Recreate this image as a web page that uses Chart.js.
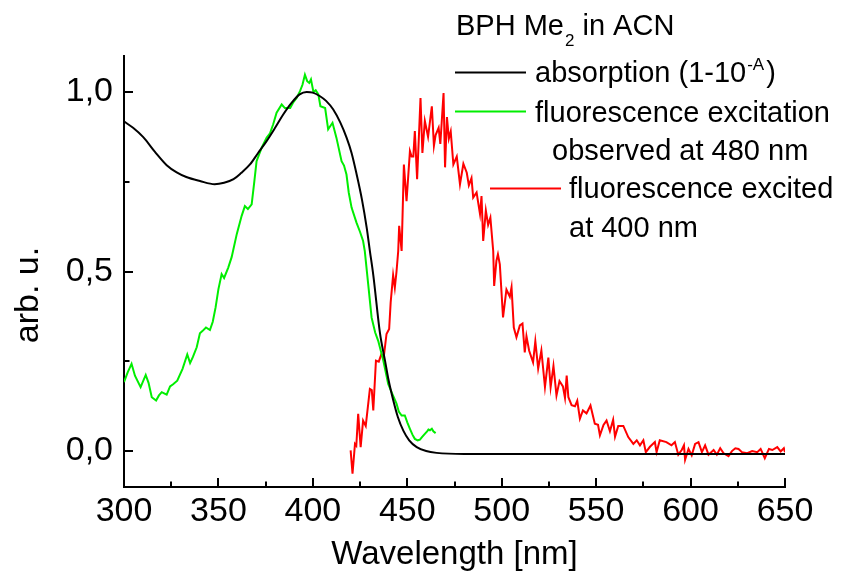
<!DOCTYPE html>
<html>
<head>
<meta charset="utf-8">
<title>BPH Me2 in ACN</title>
<script src="https://cdn.jsdelivr.net/npm/chart.js@4.4.1/dist/chart.umd.min.js"></script>
<style>
  html, body { margin: 0; padding: 0; background: #fff; }
  #wrap { position: relative; width: 857px; height: 581px; }
</style>
</head>
<body>
<div id="wrap"><canvas id="spectra" width="857" height="581"></canvas></div>
<script>
// absorption (1-10^-A), black
var absWl = [300, 304.8, 310.2, 316.4, 322.6, 327.9, 333, 340.2, 348, 353, 358, 362, 366.7, 371, 375.5, 380, 384.3, 388.5, 393, 396.7, 400, 403.8, 407, 410.8, 414.5, 417.9, 420.5, 423.2, 426, 428.5, 430.2, 432, 435.5, 438.2, 440, 442.6, 445, 447.9, 451, 455, 460, 465.5, 480, 520, 560, 600, 650];
var absVal = [0.918, 0.9, 0.874, 0.833, 0.796, 0.776, 0.763, 0.752, 0.743, 0.747, 0.757, 0.774, 0.798, 0.83, 0.863, 0.9, 0.937, 0.968, 0.993, 1.0, 0.998, 0.988, 0.975, 0.951, 0.915, 0.872, 0.83, 0.77, 0.7, 0.622, 0.557, 0.49, 0.33, 0.252, 0.2, 0.141, 0.095, 0.057, 0.03, 0.011, 0.0, -0.005, -0.008, -0.008, -0.008, -0.008, -0.008];

// fluorescence excitation observed at 480 nm, green
var excWl = [300, 302, 304, 305.8, 308.8, 311.5, 313, 314.7, 317, 318.5, 320, 321.5, 322.6, 324.4, 326, 328.2, 331, 333.5, 335, 336.5, 338.5, 340.2, 341.5, 343.4, 345.5, 347, 348.5, 350, 351.7, 353, 355.2, 357, 359.7, 362.3, 364, 365.6, 367.6, 369, 370.2, 372.9, 375.5, 377.3, 379, 380.8, 383.5, 385.2, 388, 389.5, 391.4, 393.2, 394.5, 395.8, 397, 398.1, 399, 400.3, 401.5, 402.9, 404, 406.5, 408.1, 410.4, 412.5, 415.2, 416.5, 417.8, 419, 420.5, 423.1, 425, 426.6, 427.5, 429.3, 431.1, 433, 434.6, 437.3, 439.9, 442, 444.3, 445.5, 447, 448.7, 450, 451.4, 452.8, 454, 455.5, 456.7, 458, 459.3, 460.5, 461.2, 462, 463, 463.8, 465];
var excVal = [0.192, 0.22, 0.243, 0.21, 0.178, 0.212, 0.19, 0.15, 0.141, 0.155, 0.164, 0.16, 0.157, 0.18, 0.186, 0.196, 0.229, 0.269, 0.245, 0.262, 0.289, 0.328, 0.334, 0.344, 0.337, 0.36, 0.4, 0.451, 0.493, 0.482, 0.511, 0.54, 0.604, 0.655, 0.682, 0.674, 0.687, 0.75, 0.807, 0.845, 0.872, 0.885, 0.91, 0.942, 0.965, 0.955, 0.955, 0.97, 0.983, 1.002, 1.02, 1.048, 1.03, 1.025, 1.035, 1.0, 1.005, 0.993, 0.96, 0.955, 0.896, 0.914, 0.872, 0.807, 0.795, 0.77, 0.72, 0.678, 0.636, 0.61, 0.585, 0.557, 0.465, 0.372, 0.33, 0.307, 0.252, 0.187, 0.16, 0.132, 0.11, 0.099, 0.099, 0.08, 0.062, 0.045, 0.034, 0.03, 0.032, 0.04, 0.048, 0.055, 0.06, 0.058, 0.062, 0.055, 0.05];

// fluorescence excited at 400 nm, red
var emWl = [420, 421, 422.3, 423, 424, 425.3, 426.6, 428, 430.2, 431.2, 432, 433.4, 434.9, 436.3, 437.5, 439, 440.4, 441.2, 442.5, 443.4, 444.3, 445.2, 445.7, 447, 448.2, 449.6, 451.4, 452.3, 453.2, 454, 455.2, 457, 458, 459.3, 461, 463, 464.1, 465, 466.6, 467.5, 469.2, 470, 471, 472, 473, 474.4, 476.2, 477.9, 479.7, 481.5, 482.6, 484, 484.9, 486.7, 488.5, 489.3, 490.2, 491.6, 492.8, 494, 495.5, 496, 497.2, 498, 499, 500.7, 502.5, 504.3, 505.2, 506.4, 507.8, 509.6, 511, 512.2, 513.1, 514.5, 516.6, 517.8, 519.3, 521, 522.9, 524.7, 525.9, 527.4, 529, 530.6, 532.4, 533.5, 534.4, 535.3, 537, 538.8, 540, 541.4, 543, 544.9, 547, 549.3, 551, 552, 553.9, 555.5, 557.3, 559, 560, 561.7, 564.4, 567, 569.7, 571.5, 573.2, 575, 576.3, 578.5, 581.1, 582, 583.7, 587.2, 589.9, 591.7, 593.5, 595.3, 596.5, 597.1, 598.9, 600.6, 602.4, 604.2, 606, 607.7, 609.5, 612.2, 613.9, 615.7, 617.5, 620.1, 621.9, 623.7, 625.4, 627.2, 630, 632.6, 635.3, 637.1, 639.3, 641.5, 643.3, 645.9, 647.7, 649.4, 650];
var emVal = [0.002, -0.063, 0.02, 0.015, 0.104, 0.011, 0.085, 0.07, 0.173, 0.17, 0.113, 0.252, 0.249, 0.27, 0.26, 0.326, 0.34, 0.414, 0.49, 0.455, 0.5, 0.557, 0.627, 0.557, 0.798, 0.696, 0.835, 0.82, 0.82, 0.891, 0.757, 0.983, 0.83, 0.919, 0.875, 0.96, 0.85, 0.88, 0.9, 0.855, 0.997, 0.79, 0.93, 0.87, 0.89, 0.798, 0.82, 0.743, 0.8, 0.775, 0.74, 0.76, 0.706, 0.72, 0.66, 0.71, 0.585, 0.67, 0.63, 0.65, 0.557, 0.46, 0.53, 0.548, 0.52, 0.372, 0.45, 0.43, 0.456, 0.344, 0.317, 0.35, 0.355, 0.275, 0.32, 0.28, 0.247, 0.306, 0.23, 0.28, 0.178, 0.26, 0.178, 0.237, 0.155, 0.195, 0.18, 0.148, 0.21, 0.15, 0.128, 0.125, 0.14, 0.09, 0.113, 0.105, 0.127, 0.076, 0.073, 0.044, 0.073, 0.085, 0.055, 0.087, 0.04, 0.07, 0.07, 0.039, 0.02, 0.03, 0.016, 0.03, -0.003, 0.012, 0.025, -0.003, 0.03, 0.025, 0.016, 0.025, -0.01, 0.003, 0.016, -0.024, 0.006, -0.012, 0.02, 0.025, -0.003, 0.016, -0.01, 0.003, -0.01, 0.008, -0.006, -0.014, 0.0, 0.008, 0.006, -0.003, -0.006, 0.0, -0.003, 0.006, -0.02, 0.006, 0.003, 0.011, -0.001, 0.008, -0.003];

var xTicks = [300, 325, 350, 375, 400, 425, 450, 475, 500, 525, 550, 575, 600, 625, 650];
var yTicks = [0, 0.25, 0.5, 0.75, 1.0];

var FONT = "'Liberation Sans', Arial, sans-serif";

function toPoints(xs, ys) {
    return xs.map(function(x, i) { return { x: x, y: ys[i] }; });
}

// inward tick marks (long at labelled values, short in between)
var tickMarks = {
    id: 'tickMarks',
    afterDraw: function(chart) {
        var ctx = chart.ctx;
        var area = chart.chartArea;
        var xs = chart.scales.x, ys = chart.scales.y;
        ctx.save();
        ctx.strokeStyle = '#000';
        ctx.lineWidth = 2;
        ctx.beginPath();
        xTicks.forEach(function(v) {
            var px = Math.round(xs.getPixelForValue(v));
            var len = (v % 50 === 0) ? 9 : 5.5;
            ctx.moveTo(px, area.bottom);
            ctx.lineTo(px, area.bottom - len);
        });
        yTicks.forEach(function(v) {
            var py = Math.round(ys.getPixelForValue(v));
            var len = (Math.round(v * 100) % 50 === 0) ? 9 : 5.5;
            ctx.moveTo(area.left, py);
            ctx.lineTo(area.left + len, py);
        });
        ctx.stroke();
        ctx.restore();
    }
};

// y title and the legend block, top right
var annotations = {
    id: 'annotations',
    afterDraw: function(chart) {
        var ctx = chart.ctx;
        ctx.save();
        ctx.fillStyle = '#000';
        ctx.textBaseline = 'alphabetic';

        // y axis title
        ctx.save();
        ctx.translate(38, 295);
        ctx.rotate(-Math.PI / 2);
        ctx.textAlign = 'center';
        ctx.font = '34px ' + FONT;
        ctx.fillText('arb. u.', 0, 0);
        ctx.restore();

        ctx.textAlign = 'left';
        var big = '29px ' + FONT, small = '17px ' + FONT;

        // title with subscript
        var x = 456;
        ctx.font = big;
        ctx.fillText('BPH Me', x, 35);
        x += ctx.measureText('BPH Me').width + 1;
        ctx.font = small;
        ctx.fillText('2', x, 46);
        x += ctx.measureText('2').width;
        ctx.font = big;
        ctx.fillText(' in ACN', x, 35);

        function seg(color, x1, x2, y) {
            ctx.strokeStyle = color;
            ctx.lineWidth = 2;
            ctx.beginPath();
            ctx.moveTo(x1, y);
            ctx.lineTo(x2, y);
            ctx.stroke();
        }

        // absorption (1-10^-A)
        seg('#000', 455, 526, 72.5);
        x = 535;
        ctx.font = big;
        ctx.fillText('absorption (1-10', x, 82);
        x += ctx.measureText('absorption (1-10').width + 1;
        ctx.font = small;
        ctx.fillText('-A', x, 70);
        x += ctx.measureText('-A').width + 2;
        ctx.font = big;
        ctx.fillText(')', x, 82);

        // excitation
        seg('#00ee00', 455, 526, 111.5);
        ctx.fillText('fluorescence excitation', 535, 122);
        ctx.fillText('observed at 480 nm', 552, 160);

        // emission
        seg('#ff0000', 490, 561, 188.5);
        ctx.fillText('fluorescence excited', 569, 198);
        ctx.fillText('at 400 nm', 569, 236.5);

        ctx.restore();
    }
};

var ctx = document.getElementById('spectra').getContext('2d');
new Chart(ctx, {
    type: 'line',
    data: {
        datasets: [{
            label: 'absorption (1-10^-A)',
            data: toPoints(absWl, absVal),
            borderColor: '#000000',
            borderWidth: 2,
            pointRadius: 0,
            cubicInterpolationMode: 'monotone',
            fill: false
        }, {
            label: 'fluorescence excitation observed at 480 nm',
            data: toPoints(excWl, excVal),
            borderColor: '#00ee00',
            borderWidth: 2,
            pointRadius: 0,
            tension: 0,
            fill: false
        }, {
            label: 'fluorescence excited at 400 nm',
            data: toPoints(emWl, emVal),
            borderColor: '#ff0000',
            borderWidth: 2,
            pointRadius: 0,
            tension: 0,
            fill: false
        }]
    },
    options: {
        responsive: false,
        animation: false,
        devicePixelRatio: 1,
        layout: { padding: { top: 56, right: 72, left: 0, bottom: 0 } },
        plugins: {
            legend: { display: false },
            tooltip: { enabled: false }
        },
        scales: {
            x: {
                type: 'linear',
                min: 300,
                max: 650,
                afterBuildTicks: function(scale) {
                    scale.ticks = xTicks.map(function(v) { return { value: v }; });
                },
                afterFit: function(scale) { scale.height = 94; },
                grid: { display: false, drawTicks: false, tickLength: 0 },
                border: { display: true, color: '#000', width: 2 },
                ticks: {
                    autoSkip: false,
                    maxRotation: 0,
                    padding: 4,
                    color: '#000',
                    font: { family: FONT, size: 34 },
                    callback: function(v) { return v % 50 === 0 ? String(v) : ''; }
                },
                title: {
                    display: true,
                    text: 'Wavelength [nm]',
                    color: '#000',
                    font: { family: FONT, size: 33 },
                    padding: { top: 0, bottom: 6 }
                }
            },
            y: {
                type: 'linear',
                min: -0.1,
                max: 1.1,
                afterBuildTicks: function(scale) {
                    scale.ticks = yTicks.map(function(v) { return { value: v }; });
                },
                afterFit: function(scale) { scale.width = 124; },
                grid: { display: false, drawTicks: false, tickLength: 0 },
                border: { display: true, color: '#000', width: 2 },
                ticks: {
                    autoSkip: false,
                    padding: 11,
                    color: '#000',
                    font: { family: FONT, size: 34 },
                    callback: function(v) {
                        return (Math.round(v * 100) % 50 === 0) ? v.toFixed(1).replace('.', ',') : '';
                    }
                }
            }
        }
    },
    plugins: [tickMarks, annotations]
});
</script>
</body>
</html>
